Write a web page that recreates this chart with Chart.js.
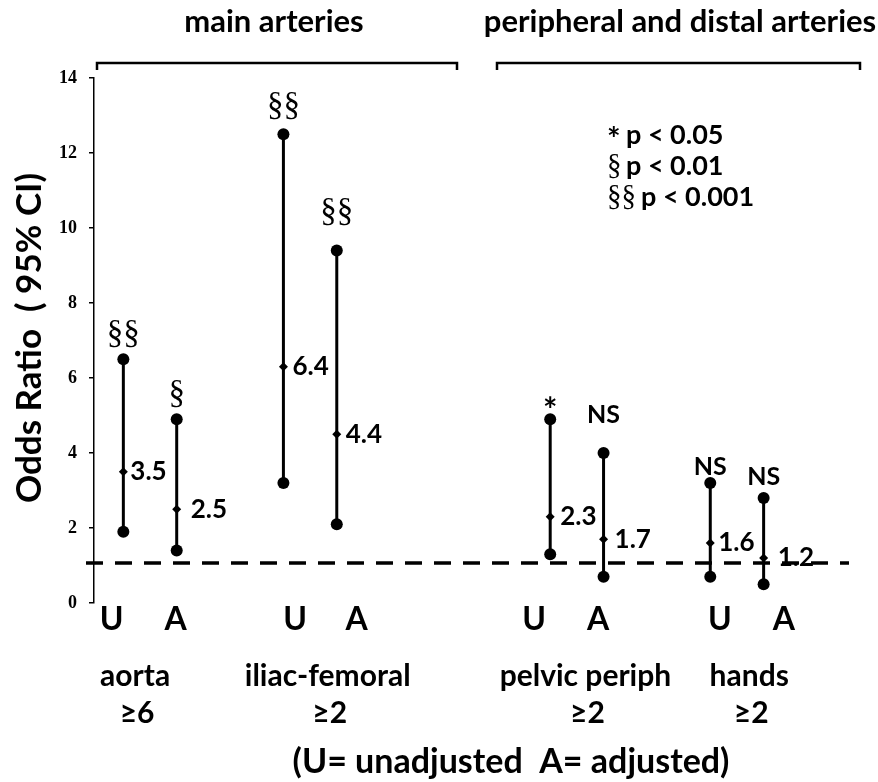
<!DOCTYPE html>
<html>
<head>
<meta charset="utf-8">
<script src="https://cdn.jsdelivr.net/npm/chart.js@4"></script>
<style>
  html, body { margin:0; padding:0; background:#fff; }
  #chart { display:block; }
</style>
</head>
<body>
<canvas id="chart" width="878" height="782"></canvas>
<script>
// ---- Data ----
const categories = ['aorta', 'iliac-femoral', 'pelvic periph', 'hands'];
const thresholds = ['≥6', '≥2', '≥2', '≥2'];
const armLabels = ['U', 'A', 'U', 'A', 'U', 'A', 'U', 'A'];
const slots = [0, 1, 3, 4, 8, 9, 11, 12];           // x slot of each bar
const lower = [1.9, 1.4, 3.2, 2.1, 1.3, 0.7, 0.7, 0.5];
const estimate = [3.5, 2.5, 6.3, 4.5, 2.3, 1.7, 1.6, 1.2];
const upper = [6.5, 4.9, 12.5, 9.4, 4.9, 4.0, 3.2, 2.8];
const estimateText = ['3.5', '2.5', '6.4', '4.4', '2.3', '1.7', '1.6', '1.2'];
const significance = ['§§', '§', '§§', '§§', '*', 'NS', 'NS', 'NS'];
const yTicks = [0, 2, 4, 6, 8, 10, 12, 14];
const refOR = 1.07;
const groups = ['main arteries', 'peripheral and distal arteries'];
const legendLines = [['*', 'p < 0.05'], ['§', 'p < 0.01'], ['§§', 'p < 0.001']];
const footNote = '(U= unadjusted  A= adjusted)';

// ---- Styles / placement ----
const SANS = 'Lato, "Open Sans", sans-serif';
const SERIF = '"Liberation Serif", "DejaVu Serif", serif';
const sigLift = [25, 25, 28, 38, 8, 38, 16, 21];       // px above upper point
const valueGap = [7, 14, 9, 9, 10, 11, 8, 14];         // px right of estimate
const armX = [-0.22, 0.98, 3.22, 4.37, 7.7, 8.9, 11.18, 12.38];
const catX = [0.22, 3.83, 8.66, 11.73];

const el = (id) => document.getElementById(id);

const barSets = slots.map((x, i) => ({
  type: 'line',
  data: [{ x, y: lower[i] }, { x, y: upper[i] }],
  borderColor: '#000', borderWidth: 3,
  pointRadius: 6, pointBackgroundColor: '#000', pointBorderWidth: 0,
  pointHoverRadius: 6
}));

const midSet = {
  type: 'scatter',
  data: slots.map((x, i) => ({ x, y: estimate[i] })),
  pointStyle: 'rectRot', pointRadius: 4.5, pointHoverRadius: 4.5,
  backgroundColor: '#000', borderWidth: 0
};

const refSet = {
  type: 'line',
  data: [{ x: -0.7, y: refOR }, { x: 13.6, y: refOR }],
  borderColor: '#000', borderWidth: 3.5, borderDash: [17, 12],
  pointRadius: 0, clip: false
};

function txt(ctx, s, x, y, font, align = 'center') {
  ctx.font = font; ctx.textAlign = align; ctx.textBaseline = 'middle';
  ctx.fillText(s, x, y);
}

const annotate = {
  id: 'annotate',
  afterDraw(chart) {
    const ctx = chart.ctx, xs = chart.scales.x, ys = chart.scales.y;
    ctx.save();
    ctx.fillStyle = '#000'; ctx.strokeStyle = '#000';

    // group titles + brackets
    txt(ctx, groups[0], 274, 22, `bold 31px ${SANS}`);
    txt(ctx, groups[1], 680, 22, `bold 31px ${SANS}`);
    ctx.lineWidth = 2.5;
    [[97, 457], [497, 860]].forEach(([a, b]) => {
      ctx.beginPath();
      ctx.moveTo(a, 70); ctx.lineTo(a, 63); ctx.lineTo(b, 63); ctx.lineTo(b, 70);
      ctx.stroke();
    });

    // significance + value labels
    slots.forEach((x, i) => {
      const px = xs.getPixelForValue(x);
      const s = significance[i];
      let f = `bold 25px ${SANS}`;
      if (s.includes('§')) f = `33px ${SERIF}`;
      if (s === '*') f = `bold 34px ${SANS}`;
      txt(ctx, s, px, ys.getPixelForValue(upper[i]) - sigLift[i], f);
      txt(ctx, estimateText[i], px + valueGap[i], ys.getPixelForValue(estimate[i]), `bold 26px ${SANS}`, 'left');
    });

    // legend
    legendLines.forEach(([sym, t], i) => {
      const y = 135 + i * 31;
      txt(ctx, sym, 607, y + (sym === '*' ? 6 : 0), sym === '*' ? `bold 32px ${SANS}` : `29px ${SERIF}`, 'left');
      txt(ctx, t, sym === '§§' ? 641 : 626, y, `bold 27px ${SANS}`, 'left');
    });

    // U / A and categories
    armLabels.forEach((a, i) => txt(ctx, a, xs.getPixelForValue(armX[i]), 620, `bold 32px ${SANS}`));
    categories.forEach((c, i) => {
      const px = xs.getPixelForValue(catX[i]);
      txt(ctx, c, px, 676, `bold 30px ${SANS}`);
      txt(ctx, thresholds[i], px + 2, 713, `bold 30px ${SANS}`);
    });
    txt(ctx, footNote, 511, 762, `bold 34px ${SANS}`);

    // y title
    ctx.translate(30, 338); ctx.rotate(-Math.PI / 2);
    txt(ctx, 'Odds Ratio  ( 95% CI)', 0, 0, `bold 35px ${SANS}`);
    ctx.restore();
  }
};

new Chart(el('chart'), {
  type: 'scatter',
  data: { datasets: [refSet, ...barSets, midSet] },
  options: {
    responsive: false, animation: false,
    layout: { padding: { left: 0, right: 29, top: 78, bottom: 179 } },
    plugins: { legend: { display: false }, tooltip: { enabled: false } },
    scales: {
      x: { type: 'linear', min: -0.55, max: 13.6, display: false },
      y: {
        min: 0, max: 14,
        afterBuildTicks: (s) => { s.ticks = yTicks.map(v => ({ value: v })); },
        afterFit: (s) => { s.width = 94; },
        ticks: { color: '#000', padding: 12, font: { family: SERIF, weight: 'bold', size: 18 } },
        grid: { drawOnChartArea: false, tickLength: 5, color: '#000', lineWidth: 1.5 },
        border: { color: '#000', width: 1.5 }
      }
    }
  },
  plugins: [annotate]
});
</script>
</body>
</html>
